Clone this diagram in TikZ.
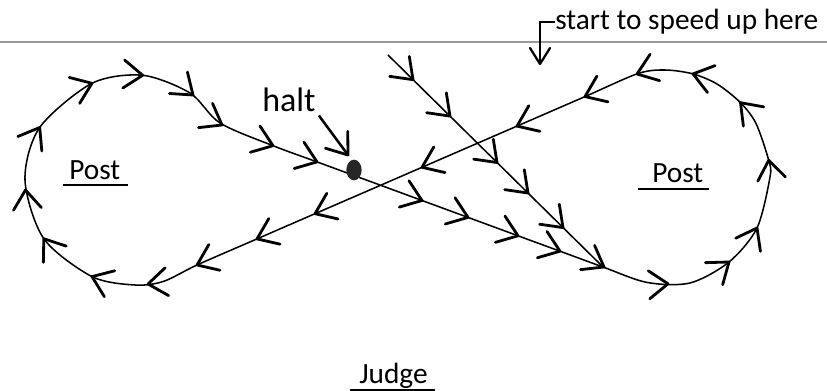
\documentclass[tikz,border=0pt]{standalone}
\usepackage{fontspec}
\setmainfont{Carlito}
\usetikzlibrary{shapes.geometric,calc}
\tikzset{
  trackline/.style={line width=1.15pt, line join=round},
  chevstroke/.style={line width=2.1pt, line cap=round, line join=round},
  txt/.style={inner sep=0pt, anchor=base west},
  labelfont/.style={font=\fontsize{22}{26}\selectfont},
  uline/.style={line width=1.2pt},
  rulestyle/.style={line width=0.8pt, draw=black!40},
}
\newcommand\mkchev[3]{\draw[chevstroke, shift={(#1,#2)}, rotate={-1*(#3)}] (-19,14) -- (0,0) -- (-19,-14);}
\newcommand\mksmallchev[3]{\draw[chevstroke, line width=1.7pt, shift={(#1,#2)}, rotate={-1*(#3)}] (-16,10) -- (0,0) -- (-16,-10);}
\begin{document}
\begin{tikzpicture}[x=0.75pt,y=-0.75pt]
\useasboundingbox (0,0) rectangle (827,391);

% rule line
\coordinate (ruleL) at (0,42);
\coordinate (ruleR) at (827,42);
\draw[rulestyle] (ruleL) -- (ruleR);

% texts
\node[txt, font=\fontsize{22}{26}\selectfont] (speed) at (555,30) {start to speed up here};
\node[txt, font=\fontsize{25.5}{30}\selectfont] (halt) at (262,112) {halt};
\node[txt, labelfont] (postL) at (69,180) {Post};
\node[txt, labelfont] (postR) at (652,183) {Post};
\node[txt, labelfont] (judge) at (359,383) {Judge};

% underlines
\draw[uline] ($(postL.base west)+(-6,5)$) -- ($(postL.base east)+(7,5)$);
\draw[uline] ($(postR.base west)+(-14,6)$) -- ($(postR.base east)+(5,6)$);
\draw[uline] ($(judge.base west)+(-9,7)$) -- ($(judge.base east)+(7,7)$);

% figure-eight track
\draw[trackline] plot[smooth cycle, tension=0.5] coordinates {
  (637.8,73.6) (585,96.6) (517,126.1) (422,167.3) (378,186.4) (315,213.7) (257,238.9) (197,265)
  (163.5,281.4) (135,285) (92,276.6) (43.8,238.7) (25,180) (39.7,127.5) (92,83.3) (142.7,75.3)
  (190,93) (220,123) (273,145.7) (317,161.9) (378,184.3) (422,200.5) (468,217.4) (518,235.8) (560,251.2) (603,267)
  (646.8,282.4) (690,283) (729,262) (757,228) (770,177) (768.7,160.3) (756,123.5) (740.5,102.7) (717.5,84.3) (693,73.9) (665,70)
};

% diagonal entry line
\coordinate (dStart) at (388,55);
\coordinate (dEnd) at (603,267);
\draw[trackline] (dStart) -- (dEnd);

% halt dot and arrow
\node[ellipse, fill=black!85, inner sep=0pt, minimum width=11.5pt, minimum height=15.5pt] (dot) at (354,170) {};
\coordinate (haltTip) at (348,155);
\draw[line width=1.9pt] ($(halt.south east)+(3,3)$) -- (haltTip);
\mkchev{348}{155}{53}

% speed-up bracket arrow
\coordinate (speedTip) at (540,64);
\draw[line width=1.5pt] (speed.west) -| (speedTip);
\mksmallchev{540}{64}{90}

% chevrons on line L1 (right to left)
\mkchev{637}{74}{160}
\mkchev{585}{96.6}{156.5}
\mkchev{517}{126.1}{156.5}
\mkchev{422}{167.3}{156.5}
\mkchev{315}{213.7}{156.5}
\mkchev{257}{238.9}{156.5}
\mkchev{197}{265}{156.5}

% chevrons on left loop
\mkchev{148}{284}{173}
\mkchev{92}{276.6}{202}
\mkchev{43.8}{238.7}{234.7}
\mkchev{25.5}{190}{264.3}
\mkchev{39.7}{127.5}{301.2}
\mkchev{92}{83.3}{338}
\mkchev{142.7}{75.3}{3.8}
\mkchev{193}{95}{40}
\mkchev{222}{125}{30}

% chevrons on line L2 (through halt)
\mkchev{273}{145.7}{20.2}
\mkchev{317}{161.9}{20.2}
\mkchev{422}{200.5}{20.2}
\mkchev{468}{217.4}{20.2}
\mkchev{518}{235.8}{20.2}
\mkchev{560}{251.2}{20.2}
\mkchev{604}{267}{30}

% chevrons on diagonal line
\mkchev{413}{79.7}{44.6}
\mkchev{450}{116.1}{44.6}
\mkchev{497}{162.5}{44.6}
\mkchev{528}{193}{44.6}
\mkchev{563}{227.6}{44.6}

% chevrons on right loop
\mkchev{668}{283.8}{-3}
\mkchev{729}{262}{-38}
\mkchev{757}{228}{-62}
\mkchev{768.7}{160.3}{261.2}
\mkchev{740.5}{102.7}{226.6}
\mkchev{693}{73.9}{195.8}
\end{tikzpicture}
\end{document}
